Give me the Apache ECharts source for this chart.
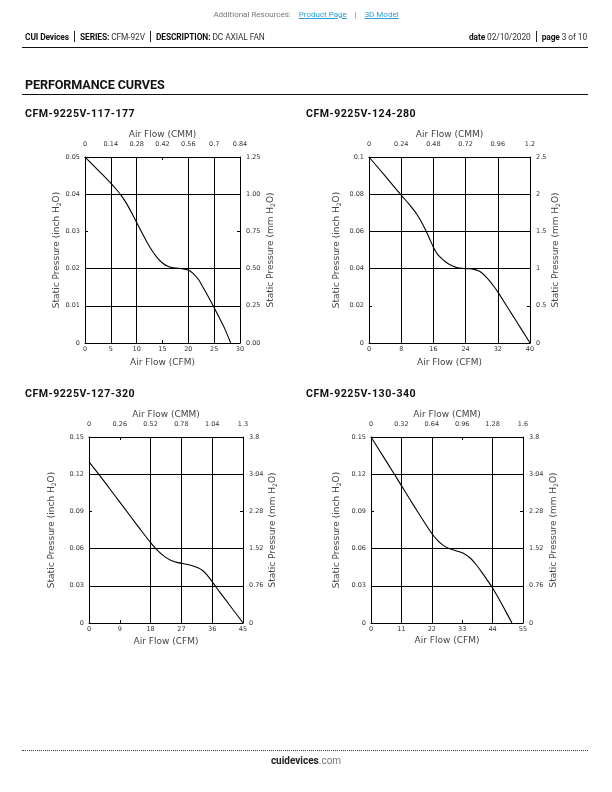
<!DOCTYPE html>
<html>
<head>
<meta charset="utf-8">
<script src="https://cdn.jsdelivr.net/npm/echarts@6/dist/echarts.min.js"></script>
<style>
  html, body { margin:0; padding:0; background:#fff; }
  body { width:612px; height:792px; position:relative; overflow:hidden; font-family: Roboto, 'Liberation Sans', sans-serif; }
  .abs { position:absolute; white-space:nowrap; }
  #chart { position:absolute; left:0; top:0; width:612px; height:792px; }
  .res { top:9px; left:0; width:612px; text-align:center; font-size:8px; line-height:12px; color:#777; }
  .res a { color:#2a9fd6; text-decoration:underline; }
  .hdr { top:31px; font-size:8.4px; line-height:12px; color:#333; letter-spacing:-0.1px; }
  .hdr b { color:#111; font-weight:700; }
  .sep { display:inline-block; width:0; height:11px; border-left:1px solid #222; margin:0 5px; vertical-align:middle; position:relative; top:-1px; }
  .rule { position:absolute; left:22px; width:566px; height:0; border-top:1.2px solid #111; }
  .sect { left:25px; top:77px; font-size:12.6px; font-weight:700; color:#111; line-height:16px; letter-spacing:-0.1px; }
  .ttl { font-size:10.6px; font-weight:700; color:#111; line-height:13px; letter-spacing:0.5px; }
  .foot { top:754px; left:0; width:612px; text-align:center; font-size:10px; line-height:13px; color:#777; }
  .foot b { color:#222; }
</style>
</head>
<body>
<div id="chart"></div>
<div class="abs res">Additional Resources:&nbsp;&nbsp;&nbsp;&nbsp;<a>Product Page</a>&nbsp;&nbsp;&nbsp;&nbsp;|&nbsp;&nbsp;&nbsp;&nbsp;<a>3D Model</a></div>
<div class="abs hdr" style="left:25px;"><b>CUI Devices</b><span class="sep"></span><b>SERIES:</b> CFM-92V<span class="sep"></span><b>DESCRIPTION:</b> DC AXIAL FAN</div>
<div class="abs hdr" style="right:25px;"><b>date</b> 02/10/2020<span class="sep"></span><b>page</b> 3 of 10</div>
<div class="rule" style="top:47px;"></div>
<div class="abs sect">PERFORMANCE CURVES</div>
<div class="rule" style="top:94px;"></div>
<div id="titles"></div>
<div class="rule" style="top:750px; border-top:1px dotted #444;"></div>
<div class="abs foot"><b>cuidevices</b>.com</div>
<script>
// ---------- data ----------
const titles = ['CFM-9225V-117-177', 'CFM-9225V-124-280', 'CFM-9225V-127-320', 'CFM-9225V-130-340'];

const fan1Cfm  = [0, 1, 2, 3, 4, 5, 6, 7, 8, 9, 10, 11, 12, 13, 14, 15, 16, 17, 18, 19, 20, 21, 22, 23, 24, 25, 26, 27, 28.2];
const fan1Inch = [0.0500, 0.0486, 0.0472, 0.0458, 0.0444, 0.0430, 0.0414, 0.0397, 0.0376, 0.0351, 0.0324, 0.0297, 0.0271, 0.0248, 0.0229, 0.0215, 0.0206, 0.0202, 0.0201, 0.0199, 0.0196, 0.0186, 0.0170, 0.0146, 0.0121, 0.0095, 0.0068, 0.0040, 0];

const fan2Cfm  = [0, 4, 8, 10, 11, 12, 13, 14, 15, 16, 17, 18, 19, 20, 22, 24, 25, 26, 27, 28, 29, 30, 31, 32, 34, 36, 38, 40];
const fan2Inch = [0.100, 0.0898, 0.0795, 0.0745, 0.0718, 0.0688, 0.0652, 0.0610, 0.0563, 0.0515, 0.0478, 0.0455, 0.0437, 0.0422, 0.0404, 0.0400, 0.0399, 0.0396, 0.0390, 0.0378, 0.0357, 0.0333, 0.0305, 0.0275, 0.0206, 0.0138, 0.0069, 0];

const fan3Cfm  = [0, 3, 6, 9, 12, 15, 18, 20, 22, 24, 26, 28, 30, 32, 33, 34, 35, 36, 37, 38, 40, 42, 44, 45];
const fan3Inch = [0.130, 0.1195, 0.1085, 0.0975, 0.0865, 0.0755, 0.0648, 0.0585, 0.0537, 0.0505, 0.0487, 0.0476, 0.0464, 0.0444, 0.0427, 0.0403, 0.0370, 0.0333, 0.0295, 0.0257, 0.0184, 0.0111, 0.0038, 0];

const fan4Cfm  = [0, 4, 8, 11, 14, 17, 20, 22, 24, 26, 28, 30, 32, 34, 36, 38, 40, 42, 44, 46, 48, 51];
const fan4Inch = [0.150, 0.1358, 0.1216, 0.1108, 0.1000, 0.0893, 0.0788, 0.0722, 0.0668, 0.0628, 0.0603, 0.0588, 0.0574, 0.0555, 0.0522, 0.0472, 0.0412, 0.0348, 0.0282, 0.0205, 0.0125, 0];

// axis scales (tick labels follow from min 0, max and step)
const cfmMax  = [30, 40, 45, 55];
const cfmStep = [5, 8, 9, 11];
const cmmMax  = [0.84, 1.2, 1.3, 1.6];
const cmmStep = [0.14, 0.24, 0.26, 0.32];
const inchMax  = [0.05, 0.1, 0.15, 0.15];
const inchStep = [0.01, 0.02, 0.03, 0.03];
const mmMax  = [1.25, 2.5, 3.8, 3.8];
const mmStep = [0.25, 0.5, 0.76, 0.76];

const curves = [[fan1Cfm, fan1Inch], [fan2Cfm, fan2Inch], [fan3Cfm, fan3Inch], [fan4Cfm, fan4Inch]];

// ---------- layout / style ----------
const grids = [
  {left: 85, top: 157, width: 155, height: 186},
  {left: 369, top: 157, width: 161, height: 186},
  {left: 89, top: 437, width: 154, height: 186},
  {left: 371, top: 437, width: 152, height: 186}
];
const titlePos = [[25, 107], [306, 107], [25, 387], [306, 387]];
const hideX = [[3], [], [1], [3]];     // split lines not drawn in the reference
const hideY = [[3], [1], [3], [3]];
const leftGap = [23, 27, 32, 29];
const rightGap = [25, 20, 24, 25];
const bottomGap = [15, 15, 14, 13];
const topGap = [18, 18, 18, 18];
const rightFmt = [2, null, null, null];

const FF = 'DejaVu Sans';
const nameColor = '#444';
const tickColor = '#333';

function lineColors(n, hidden) {
  const arr = [];
  for (let k = 0; k <= n; k++) arr.push(hidden.indexOf(k) >= 0 ? 'rgba(0,0,0,0)' : '#000');
  return arr;
}
function fmt(v, d) {
  if (d != null) return v.toFixed(d);
  return String(parseFloat(v.toFixed(4)));
}
const nameRich = {
  a: {fontSize: 9, lineHeight: 11, color: nameColor, fontFamily: FF},
  s: {fontSize: 6, lineHeight: 5, padding: [6, 0, 0, 0], verticalAlign: 'bottom', color: nameColor, fontFamily: FF}
};

const tEl = document.getElementById('titles');
titles.forEach((t, i) => {
  const d = document.createElement('div');
  d.className = 'abs ttl';
  d.style.left = titlePos[i][0] + 'px';
  d.style.top = titlePos[i][1] + 'px';
  d.textContent = t;
  tEl.appendChild(d);
});

const option = {animation: false, grid: [], xAxis: [], yAxis: [], series: []};
const baseAxis = {
  type: 'value', min: 0,
  axisLine: {show: true, onZero: false, lineStyle: {color: '#000', width: 1}},
  axisTick: {show: true, inside: true, length: 3, lineStyle: {color: '#000', width: 1}},
  nameLocation: 'middle', nameMoveOverlap: false
};
const tickFont = {fontSize: 6.5, color: tickColor, fontFamily: FF, showMinLabel: true, showMaxLabel: true};

for (let i = 0; i < 4; i++) {
  option.grid.push(Object.assign({outerBoundsMode: 'none', containLabel: false}, grids[i]));
  const nx = Math.round(cfmMax[i] / cfmStep[i]);
  const ny = Math.round(inchMax[i] / inchStep[i]);
  // bottom CFM axis
  option.xAxis.push(Object.assign({}, baseAxis, {
    gridIndex: i, position: 'bottom', max: cfmMax[i], interval: cfmStep[i],
    axisLabel: Object.assign({margin: 3}, tickFont),
    splitLine: {show: true, lineStyle: {color: lineColors(nx, hideX[i]), width: 1}},
    name: 'Air Flow (CFM)', nameGap: bottomGap[i],
    nameTextStyle: {fontSize: 9, color: nameColor, fontFamily: FF}
  }));
  // top CMM axis
  option.xAxis.push(Object.assign({}, baseAxis, {
    gridIndex: i, position: 'top', max: cmmMax[i], interval: cmmStep[i],
    axisLabel: Object.assign({margin: 9, formatter: v => fmt(v, null)}, tickFont),
    splitLine: {show: false},
    name: 'Air Flow (CMM)', nameGap: topGap[i],
    nameTextStyle: {fontSize: 9, color: nameColor, fontFamily: FF}
  }));
  // left inch axis
  option.yAxis.push(Object.assign({}, baseAxis, {
    gridIndex: i, position: 'left', max: inchMax[i], interval: inchStep[i],
    axisLabel: Object.assign({margin: 5, formatter: v => fmt(v, null)}, tickFont),
    splitLine: {show: true, lineStyle: {color: lineColors(ny, hideY[i]), width: 1}},
    name: '{a|Static Pressure (inch H}{s|2}{a|O)}', nameGap: leftGap[i], nameRotate: 90,
    nameTextStyle: {rich: nameRich}
  }));
  // right mm axis
  const d = rightFmt[i];
  option.yAxis.push(Object.assign({}, baseAxis, {
    gridIndex: i, position: 'right', max: mmMax[i], interval: mmStep[i],
    axisLabel: Object.assign({margin: 6, formatter: v => fmt(v, d)}, tickFont),
    splitLine: {show: false},
    name: '{a|Static Pressure (mm H}{s|2}{a|O)}', nameGap: rightGap[i], nameRotate: 90,
    nameTextStyle: {rich: nameRich}
  }));
  const [xs, ys] = curves[i];
  option.series.push({
    type: 'line', xAxisIndex: 2 * i, yAxisIndex: 2 * i,
    data: xs.map((x, k) => [x, ys[k]]),
    showSymbol: false, symbol: 'none', smooth: 0.25,
    lineStyle: {color: '#000', width: 1.1}, z: 5
  });
}

const chart = echarts.init(document.getElementById('chart'), null, {renderer: 'canvas'});
chart.setOption(option);
</script>
</body>
</html>
